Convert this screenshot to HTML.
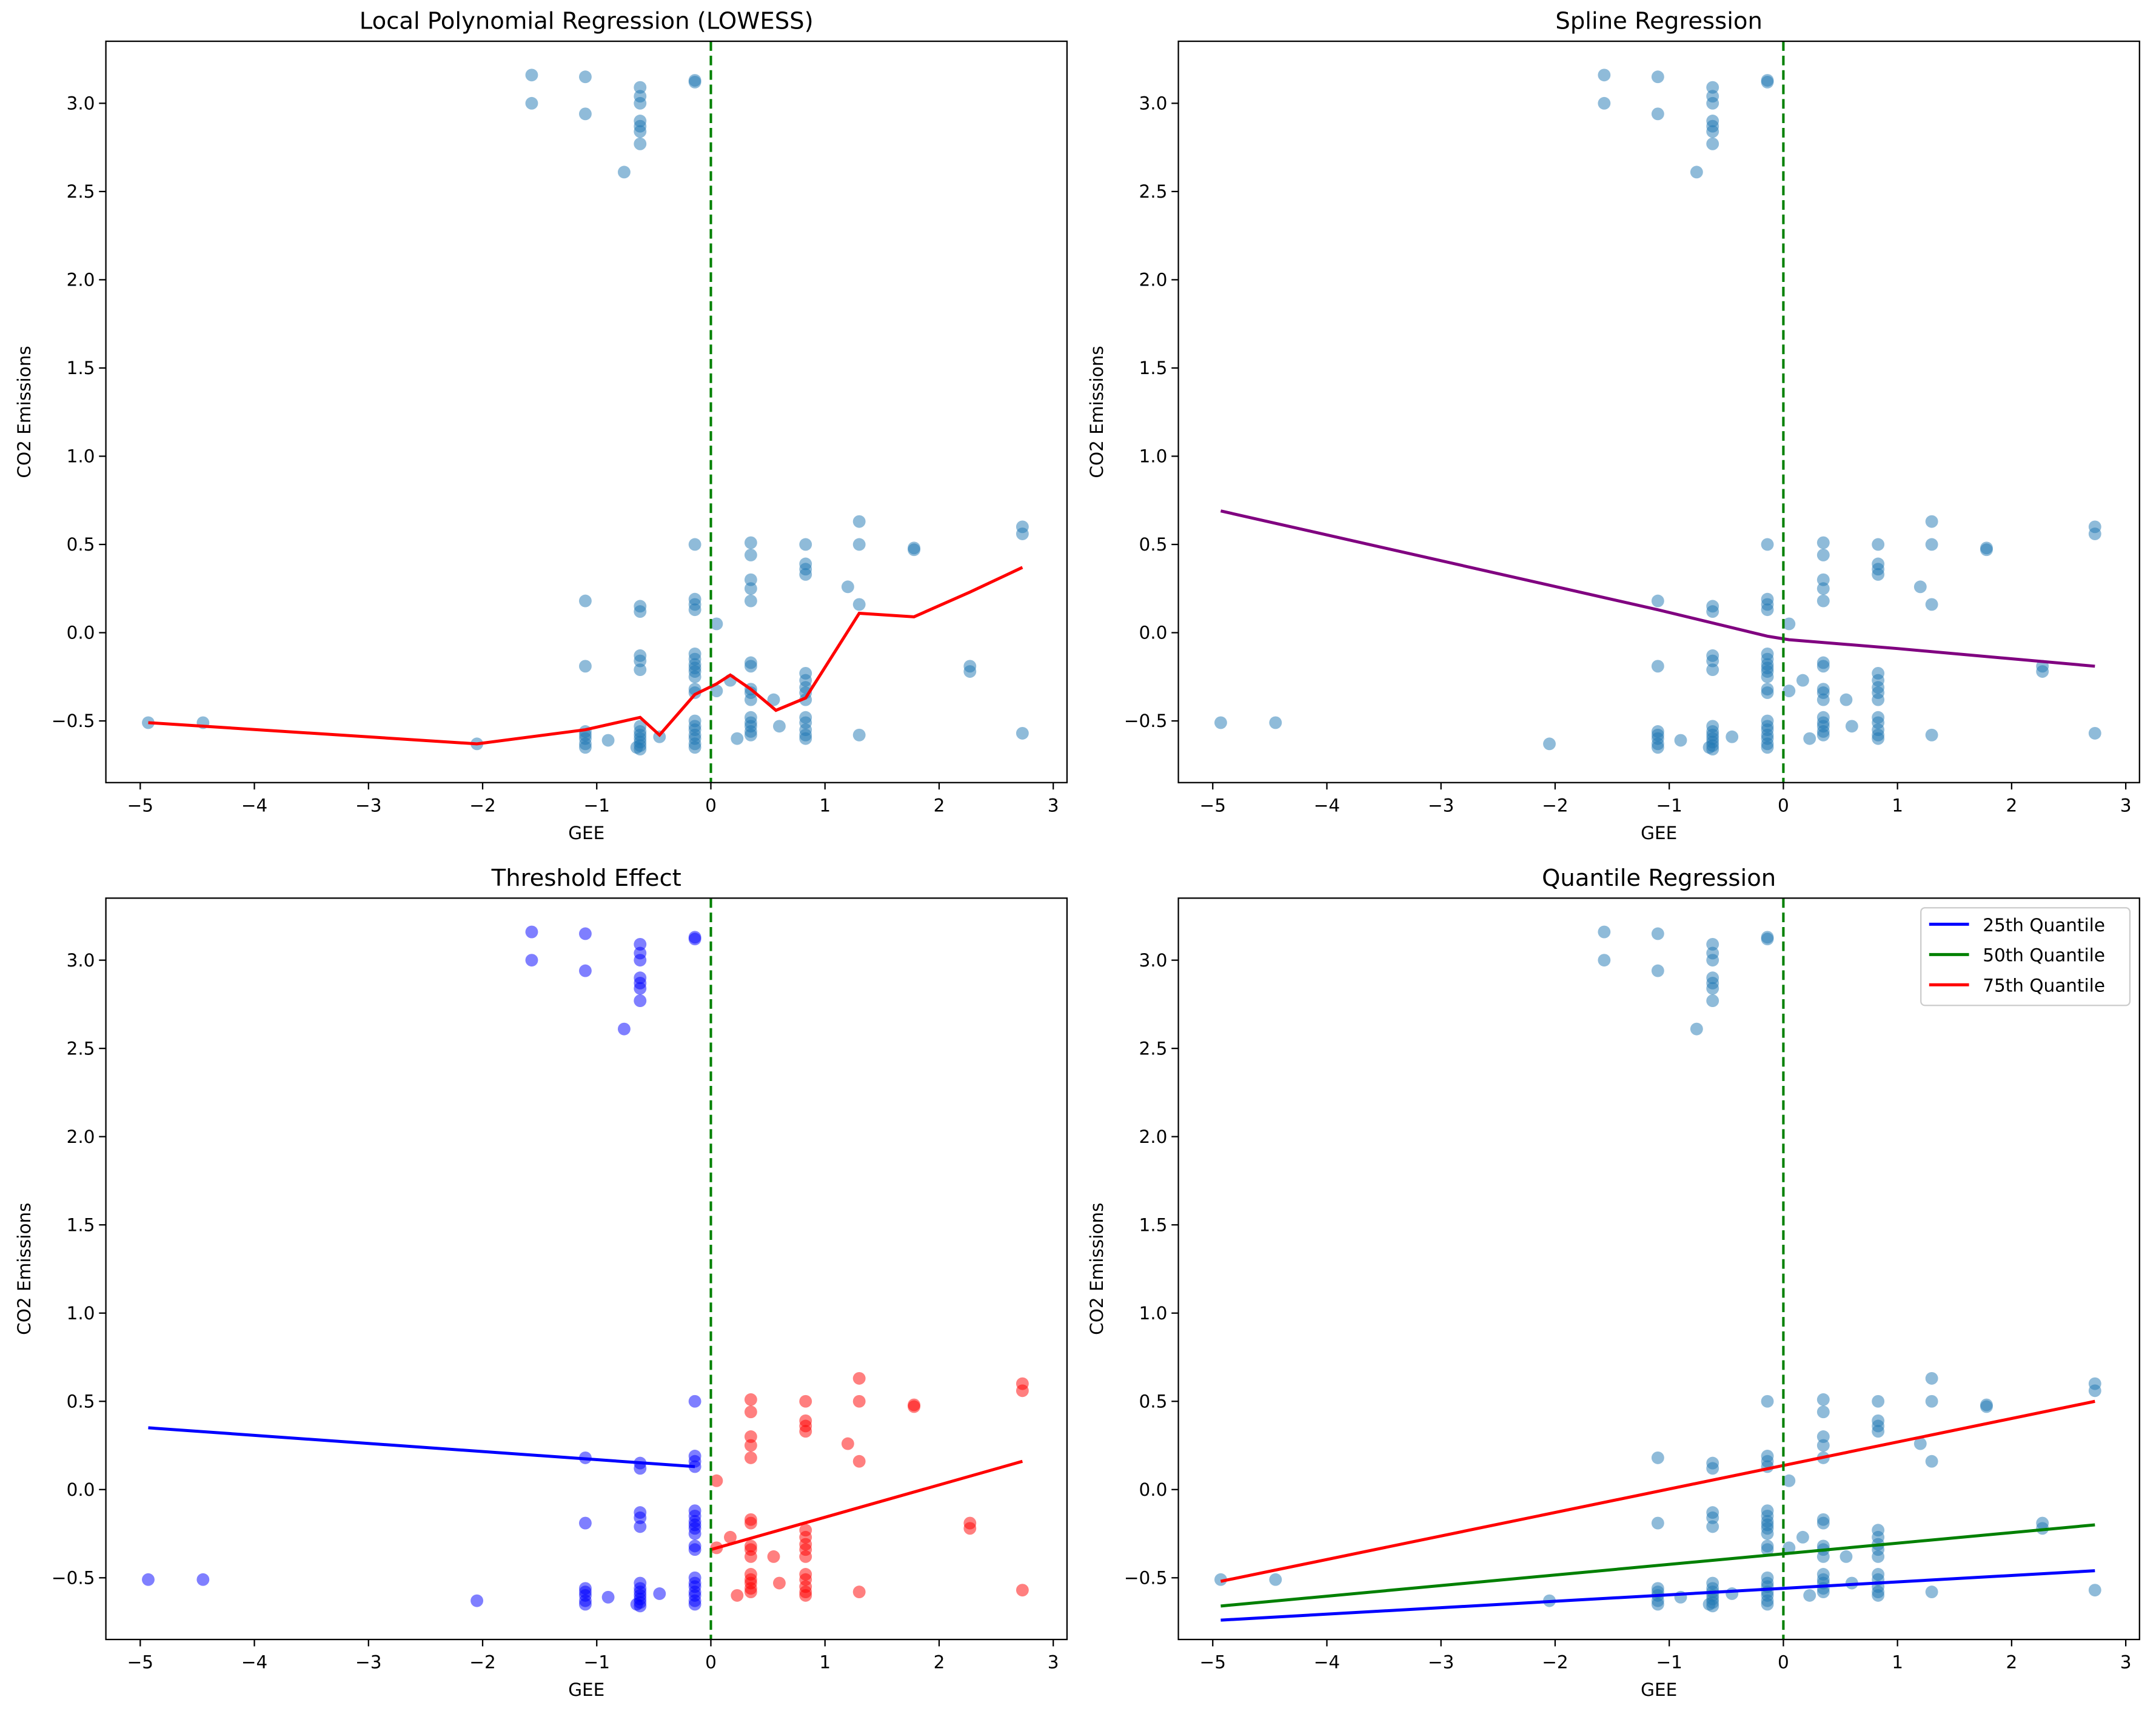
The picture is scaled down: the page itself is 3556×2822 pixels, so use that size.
<!DOCTYPE html>
<html><head><meta charset="utf-8"><style>
html,body{margin:0;padding:0;background:#fff;}
svg{display:block;font-family:"DejaVu Sans","Liberation Sans",sans-serif;}
</style></head><body>
<svg id="fig" width="3556" height="2822" viewBox="0 0 1568 1244" preserveAspectRatio="none" xmlns="http://www.w3.org/2000/svg"></svg>
<script>
// ---- data ----
const ptX = [-4.93,-4.45,-2.05,
 -1.1,-1.1,-1.1,-1.1,-1.1,-1.1,-1.1,-0.9,
 -0.62,-0.62,-0.62,-0.62,-0.62,-0.62,-0.62,-0.62,-0.62,-0.62,-0.62,-0.62,-0.65,-0.45,
 -0.62,-0.62,-0.62,-0.62,-0.62,-0.62,-0.62,
 -0.14,-0.14,-0.14,-0.14,-0.14,-0.14,-0.14,-0.14,-0.14,-0.14,-0.14,-0.14,-0.14,-0.14,-0.14,-0.14,-0.14,-0.14,-0.14,-0.14,-0.14,
 0.05,0.05,0.23,0.17,
 0.35,0.35,0.35,0.35,0.35,0.35,0.35,0.35,0.35,0.35,0.35,0.35,0.35,0.35,0.35,
 0.55,0.6,
 0.83,0.83,0.83,0.83,0.83,0.83,0.83,0.83,0.83,0.83,0.83,0.83,0.83,0.83,
 1.2,1.3,1.3,1.3,1.3,1.78,1.78,2.27,2.27,2.73,2.73,2.73,
 -1.57,-1.57,-1.1,-1.1,-0.76];
const ptY = [-0.51,-0.51,-0.63,
 0.18,-0.19,-0.56,-0.58,-0.6,-0.63,-0.65,-0.61,
 0.15,0.12,-0.13,-0.16,-0.21,-0.53,-0.56,-0.58,-0.6,-0.62,-0.64,-0.66,-0.65,-0.59,
 3.09,3.04,3.0,2.9,2.87,2.84,2.77,
 0.5,0.19,0.16,0.13,-0.12,-0.15,-0.18,-0.2,-0.22,-0.25,-0.32,-0.34,-0.5,-0.53,-0.55,-0.58,-0.6,-0.63,-0.65,3.13,3.12,
 0.05,-0.33,-0.6,-0.27,
 0.51,0.44,0.3,0.25,0.18,-0.17,-0.19,-0.32,-0.34,-0.38,-0.48,-0.51,-0.53,-0.56,-0.58,
 -0.38,-0.53,
 0.5,0.39,0.36,0.33,-0.23,-0.27,-0.31,-0.34,-0.38,-0.48,-0.51,-0.55,-0.58,-0.6,
 0.26,0.63,0.5,0.16,-0.58,0.48,0.47,-0.19,-0.22,0.6,0.56,-0.57,
 3.16,3.0,3.15,2.94,2.61];
const lowessX = [-4.93,-2.05,-1.1,-0.62,-0.45,-0.14,0.05,0.17,0.35,0.57,0.83,1.3,1.78,2.27,2.73];
const lowessY = [-0.51,-0.63,-0.55,-0.48,-0.58,-0.35,-0.29,-0.24,-0.32,-0.44,-0.37,0.11,0.09,0.23,0.37];
const splineX = [-4.93,-1.1,-0.14,0.05,1.0,2.73];
const splineY = [0.69,0.13,-0.02,-0.04,-0.09,-0.19];
const thrLeftX = [-4.93,-0.14], thrLeftY = [0.35,0.13];
const thrRightX = [0.0,2.73], thrRightY = [-0.34,0.16];
const qX = [-4.93,2.73];
const q25Y = [-0.74,-0.46], q50Y = [-0.66,-0.2], q75Y = [-0.52,0.5];
const xTicks = [-5,-4,-3,-2,-1,0,1,2,3];
const yTicks = [-0.5,0.0,0.5,1.0,1.5,2.0,2.5,3.0];

// ---- drawing ----
const svg = document.getElementById('fig');
const NS = 'http://www.w3.org/2000/svg';
function mk(tag, attrs, parent){ const e=document.createElementNS(NS,tag); for(const k in attrs) e.setAttribute(k,attrs[k]); (parent||svg).appendChild(e); return e; }
const panels = [
 {ox:0, oy:0, title:'Local Polynomial Regression (LOWESS)', name:'lowess-panel'},
 {ox:780, oy:0, title:'Spline Regression', name:'spline-panel'},
 {ox:0, oy:623, title:'Threshold Effect', name:'threshold-panel'},
 {ox:780, oy:623, title:'Quantile Regression', name:'quantile-panel'}
];
panels.forEach((p,i)=>{
  const g = mk('g',{});
  
  
  const sx = v => p.ox + 517 + v*83;
  const sy = v => p.oy + 460 - v*128.3;
  const L=p.ox+77, R=p.ox+776, T=p.oy+30, B=p.oy+569;
  // title
  const t = mk('text',{x:(L+R)/2,y:T-9,'text-anchor':'middle','font-size':17,fill:'#000'},g);
  t.textContent=p.title;
  
  
  // ticks
  xTicks.forEach(v=>{
    mk('line',{x1:sx(v),x2:sx(v),y1:B,y2:B+5,stroke:'#000','stroke-width':1},g);
    const tx = mk('text',{x:sx(v),y:B+21,'text-anchor':'middle','font-size':13,fill:'#000'},g);
    tx.textContent = v<0 ? '\u2212'+Math.abs(v) : String(v);
    
    
  });
  yTicks.forEach(v=>{
    mk('line',{x1:L-5,x2:L,y1:sy(v),y2:sy(v),stroke:'#000','stroke-width':1},g);
    const ty = mk('text',{x:L-8,y:sy(v)+4.5,'text-anchor':'end','font-size':13,fill:'#000'},g);
    ty.textContent = v<0 ? '\u2212'+Math.abs(v).toFixed(1) : v.toFixed(1);
    
    
  });
  const xl = mk('text',{x:(L+R)/2,y:B+41,'text-anchor':'middle','font-size':13,fill:'#000'},g);
  xl.textContent='GEE';
  
  
  const yl = mk('text',{x:0,y:0,'text-anchor':'middle','font-size':13,fill:'#000',transform:`translate(${p.ox+22},${(T+B)/2}) rotate(-90)`},g);
  yl.textContent='CO2 Emissions';
  
  
  // points
  ptX.forEach((x,k)=>{
    let col = '#1f77b4';
    if(i===2) col = x<0 ? '#0000ff' : '#ff0000';
    const c = mk('circle',{cx:sx(x),cy:sy(ptY[k]),r:4.6,fill:col,'fill-opacity':0.5},g);
    
    
  });
  const line = (xs,ys,col,nm)=>{
    const pl = mk('polyline',{points:xs.map((x,k)=>sx(x)+','+sy(ys[k])).join(' '),fill:'none',stroke:col,'stroke-width':2.2},g);
    
    
  };
  if(i===0) line(lowessX,lowessY,'#ff0000','lowess-line');
  if(i===1) line(splineX,splineY,'#800080','spline-line');
  if(i===2){ line(thrLeftX,thrLeftY,'#0000ff','below-threshold-line'); line(thrRightX,thrRightY,'#ff0000','above-threshold-line'); }
  if(i===3){ line(qX,q25Y,'#0000ff','q25-line'); line(qX,q50Y,'#008000','q50-line'); line(qX,q75Y,'#ff0000','q75-line'); }
  const vl = mk('line',{x1:sx(0),x2:sx(0),y1:T,y2:B,stroke:'#008000','stroke-width':1.8,'stroke-dasharray':'7,3.5'},g);
  
  
  mk('rect',{x:L,y:T,width:R-L,height:B-T,fill:'none',stroke:'#000','stroke-width':1},g);
  if(i===3){
    const lg = mk('g',{},g);
    
    
    mk('rect',{x:1397,y:660,width:152,height:71,rx:3,fill:'#fff',stroke:'#ccc','stroke-width':1},lg);
    [['25th Quantile','#0000ff'],['50th Quantile','#008000'],['75th Quantile','#ff0000']].forEach((e,k)=>{
      const y=672+k*22;
      mk('line',{x1:1403,x2:1432,y1:y,y2:y,stroke:e[1],'stroke-width':2.2},lg);
      const tt=mk('text',{x:1442,y:y+5,'font-size':13,fill:'#000'},lg);
      tt.textContent=e[0];
      
      
    });
  }
});
</script>
</body></html>
